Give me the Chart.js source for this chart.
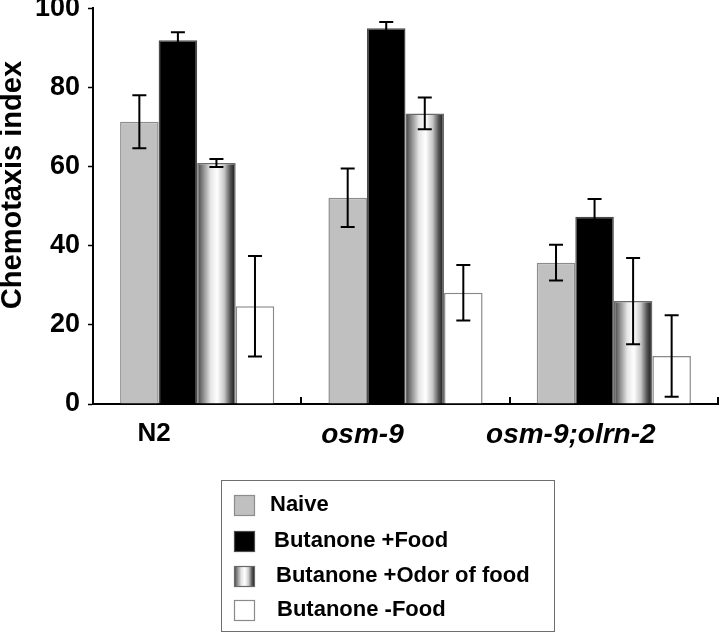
<!DOCTYPE html>
<html>
<head>
<meta charset="utf-8">
<script src="https://cdn.jsdelivr.net/npm/chart.js@4/dist/chart.umd.min.js"></script>
<style>
  html, body { margin: 0; padding: 0; background: #fff; }
  #wrap { width: 720px; height: 632px; position: relative; }
</style>
</head>
<body>
<div id="wrap"><canvas id="c" width="720" height="632"></canvas></div>
<script>
// ---- data ----
const categories = ['N2', 'osm-9', 'osm-9;olrn-2'];
const seriesLabels = ['Naive', 'Butanone +Food', 'Butanone +Odor of food', 'Butanone -Food'];
const naive      = [71.3, 52.1, 35.7];
const naiveErr   = [6.7, 7.4, 4.5];
const food       = [91.9, 94.9, 47.3];
const foodErr    = [2.0, 1.6, 4.5];
const odor       = [60.9, 73.4, 26.0];
const odorErr    = [1.0, 4.0, 10.9];
const noFood     = [24.7, 28.1, 12.1];
const noFoodErr  = [12.7, 7.0, 10.3];
const yTicks     = [0, 20, 40, 60, 80, 100];
const yTitle     = 'Chemotaxis index';

const FONT = '"Liberation Sans", Arial, Helvetica, sans-serif';
const CAT_PCT = 0.74;
const errors = [naiveErr, foodErr, odorErr, noFoodErr];

function cylGradient(g, x0, w) {
  const gr = g.createLinearGradient(x0, 0, x0 + w, 0);
  gr.addColorStop(0.00, '#3c3c3c');
  gr.addColorStop(0.12, '#7a7a7a');
  gr.addColorStop(0.35, '#e6e6e6');
  gr.addColorStop(0.52, '#ffffff');
  gr.addColorStop(0.70, '#c8c8c8');
  gr.addColorStop(0.86, '#555555');
  gr.addColorStop(1.00, '#111111');
  return gr;
}

function odorFill(ctx) {
  const chart = ctx.chart;
  const xs = chart.scales && chart.scales.x;
  if (ctx.dataIndex === undefined || !xs || !xs.width) return '#999';
  const n = categories.length;
  const catW = xs.width / n;
  const barW = catW * CAT_PCT / 4;
  const left = xs.getPixelForValue(ctx.dataIndex) - catW * CAT_PCT / 2 + 2 * barW;
  return cylGradient(chart.ctx, left, barW);
}

const styles = [
  { bg: '#c0c0c0', border: '#8c8c8c' },
  { bg: '#000000', border: '#4a4a4a' },
  { bg: null,      border: '#6a6a6a' },
  { bg: '#ffffff', border: '#8a8a8a' }
];

const extras = {
  id: 'extras',
  afterDatasetsDraw(chart) {
    const g = chart.ctx;
    const ys = chart.scales.y, xs = chart.scales.x;
    // error bars
    g.save();
    g.strokeStyle = '#000';
    g.lineWidth = 2;
    chart.data.datasets.forEach((ds, i) => {
      const meta = chart.getDatasetMeta(i);
      meta.data.forEach((el, j) => {
        const v = ds.data[j], e = errors[i][j];
        const yt = ys.getPixelForValue(v + e);
        const yb = ys.getPixelForValue(v - e);
        const cap = 7;
        g.beginPath();
        g.moveTo(el.x, yt); g.lineTo(el.x, yb);
        g.moveTo(el.x - cap, yt); g.lineTo(el.x + cap, yt);
        g.moveTo(el.x - cap, yb); g.lineTo(el.x + cap, yb);
        g.stroke();
      });
    });
    // category boundary ticks on x axis (pointing up)
    const n = categories.length;
    const catW = xs.width / n;
    g.lineWidth = 2;
    for (let i = 0; i < n; i++) {
      const xb = xs.getPixelForValue(i) + catW / 2;
      g.beginPath();
      g.moveTo(Math.round(xb), xs.top);
      g.lineTo(Math.round(xb), xs.top - 7);
      g.stroke();
    }
    g.restore();
  },
  afterDraw(chart) {
    const g = chart.ctx;
    const ys = chart.scales.y;
    // y-axis title
    g.save();
    g.translate(13, (ys.top + ys.bottom) / 2 - 21);
    g.rotate(-Math.PI / 2);
    g.fillStyle = '#000';
    g.font = 'bold 29px ' + FONT;
    g.textAlign = 'center';
    g.textBaseline = 'middle';
    g.fillText(yTitle, 0, 0);
    g.restore();

    // legend box
    g.save();
    const bx = 221, by = 480, bw = 333, bh = 151;
    g.strokeStyle = '#6e6e6e';
    g.lineWidth = 1;
    g.strokeRect(bx + 0.5, by + 0.5, bw, bh);
    const rowY = [505, 541, 576, 610];
    const textX = [270, 274, 276, 277];
    g.font = 'bold 22px ' + FONT;
    g.textBaseline = 'middle';
    g.textAlign = 'left';
    chart.data.datasets.forEach((ds, i) => {
      const sx = 234, sy = rowY[i] - 10, sw = 21, sh = 21;
      g.fillStyle = i === 2 ? cylGradient(g, sx, sw) : styles[i].bg;
      g.fillRect(sx, sy, sw, sh);
      g.strokeStyle = styles[i].border;
      g.lineWidth = 1.2;
      g.strokeRect(sx + 0.5, sy + 0.5, sw - 1, sh - 1);
      g.fillStyle = '#000';
      g.fillText(ds.label, textX[i], rowY[i]);
    });
    g.restore();
  }
};

const seriesData = [naive, food, odor, noFood];
const datasets = seriesData.map((d, i) => ({
  label: seriesLabels[i],
  data: d,
  backgroundColor: i === 2 ? odorFill : styles[i].bg,
  borderColor: styles[i].border,
  borderWidth: 1.5,
  categoryPercentage: CAT_PCT,
  barPercentage: 1.0
}));

new Chart(document.getElementById('c'), {
  type: 'bar',
  data: { labels: categories, datasets },
  options: {
    responsive: false,
    animation: false,
    devicePixelRatio: 1,
    layout: { padding: { top: 8, right: 2, bottom: 178, left: 0 } },
    plugins: { legend: { display: false }, tooltip: { enabled: false } },
    scales: {
      x: {
        offset: true,
        grid: { display: false, drawTicks: false },
        border: { display: true, color: '#000', width: 2 },
        ticks: {
          color: '#000',
          padding: 14,
          labelOffset: -43,
          maxRotation: 0,
          autoSkip: false,
          font: (c) => ({ family: FONT, size: c.index === 0 ? 26 : 28, weight: 'bold', style: c.index === 0 ? 'normal' : 'italic' })
        },
        afterFit: (s) => { s.height = 50; }
      },
      y: {
        min: 0, max: 100,
        afterBuildTicks: (s) => { s.ticks = yTicks.map(v => ({ value: v })); },
        grid: { drawOnChartArea: false, drawTicks: true, tickLength: 5, tickColor: '#000', tickWidth: 1.5 },
        border: { display: true, color: '#000', width: 2 },
        ticks: {
          color: '#000',
          padding: 8,
          font: { family: FONT, size: 27, weight: 'bold', lineHeight: 0.01 }
        },
        afterFit: (s) => { s.width = 93; }
      }
    }
  },
  plugins: [extras]
});
</script>
</body>
</html>
